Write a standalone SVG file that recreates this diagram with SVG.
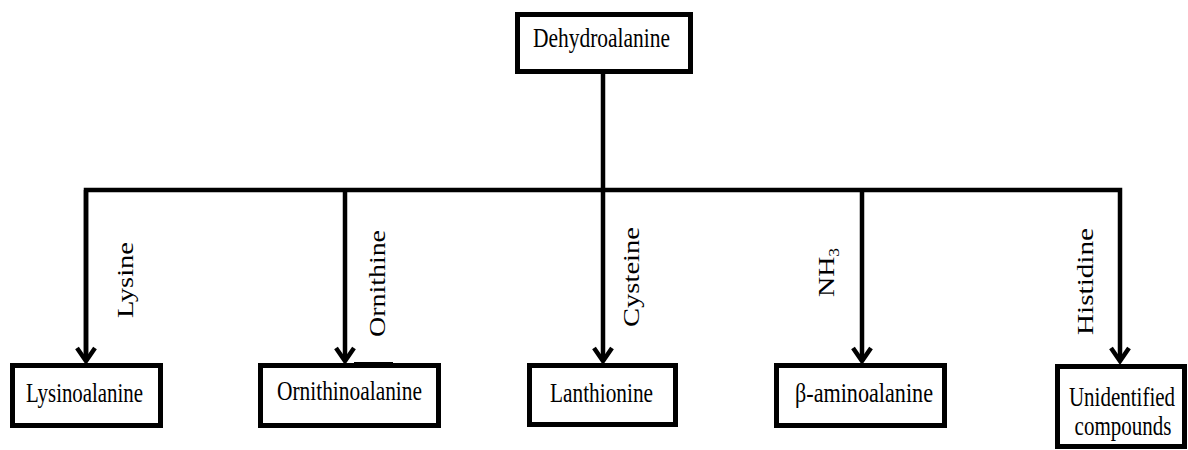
<svg xmlns="http://www.w3.org/2000/svg" width="1188" height="450" viewBox="0 0 1188 450">
<style>
.box{fill:#fff;stroke:#000;stroke-width:5}
.lbl{font-family:"Liberation Serif","Times New Roman",serif;font-size:27px;fill:#000}
.lbl2{font-family:"Liberation Serif","Times New Roman",serif;font-size:21px;fill:#000}
.rot{font-family:"Liberation Serif","Times New Roman",serif;font-size:24px;fill:#000}
.ln{fill:none;stroke:#000;stroke-width:4.5;stroke-linejoin:miter}
</style>
<defs>
<marker id="arr" markerUnits="userSpaceOnUse" viewBox="-18 -12 22 24" refX="0" refY="0" markerWidth="22" markerHeight="24" orient="auto" overflow="visible">
<path d="M-13,-9 L0,0 L-13,9" fill="none" stroke="#000" stroke-width="4.5" stroke-linejoin="miter"/>
</marker>
</defs>
<g id="connectors">
<path class="ln" d="M603,74 V190"/>
<path class="ln" d="M86,361 V190 H1120 V361" marker-end="url(#arr)"/>
<path class="ln" d="M86,190 V361" marker-end="url(#arr)"/>
<path class="ln" d="M345,190 V361" marker-end="url(#arr)"/>
<path class="ln" d="M603,190 V361" marker-end="url(#arr)"/>
<path class="ln" d="M862,190 V361" marker-end="url(#arr)"/>
<text class="rot" transform="translate(133,318) rotate(-90)" textLength="76" lengthAdjust="spacingAndGlyphs">Lysine</text>
<text class="rot" transform="translate(385,337) rotate(-90)" textLength="107" lengthAdjust="spacingAndGlyphs">Ornithine</text>
<text class="rot" transform="translate(639,327) rotate(-90)" textLength="100" lengthAdjust="spacingAndGlyphs">Cysteine</text>
<text class="rot" transform="translate(834,297) rotate(-90)" textLength="49" lengthAdjust="spacingAndGlyphs">NH<tspan dy="5" font-size="15">3</tspan></text>
<text class="rot" transform="translate(1093,335) rotate(-90)" textLength="107" lengthAdjust="spacingAndGlyphs">Histidine</text>
</g>
<g id="dehydroalanine">
<rect class="box" x="517.5" y="14.5" width="173" height="57"/>
<text class="lbl" x="533" y="47" textLength="137" lengthAdjust="spacingAndGlyphs">Dehydroalanine</text>
</g>
<g id="lysinoalanine">
<rect class="box" x="12.5" y="365.5" width="148" height="60"/>
<text class="lbl" x="26" y="402" textLength="117" lengthAdjust="spacingAndGlyphs">Lysinoalanine</text>
</g>
<g id="ornithinoalanine">
<rect class="box" x="260.5" y="365.5" width="178" height="60"/>
<rect x="354" y="362" width="39" height="2" fill="#000"/>
<text class="lbl" x="277" y="400" textLength="145" lengthAdjust="spacingAndGlyphs">Ornithinoalanine</text>
</g>
<g id="lanthionine">
<rect class="box" x="529.5" y="365.5" width="146" height="59"/>
<text class="lbl" x="550" y="402" textLength="103" lengthAdjust="spacingAndGlyphs">Lanthionine</text>
</g>
<g id="beta-aminoalanine">
<rect class="box" x="776.5" y="365.5" width="168" height="60"/>
<text class="lbl" x="795" y="402" textLength="138" lengthAdjust="spacingAndGlyphs">β-aminoalanine</text>
</g>
<g id="unidentified">
<rect class="box" x="1057.5" y="366.5" width="127" height="80"/>
<text class="lbl2" text-anchor="middle" transform="translate(1122,406) scale(1,1.3)">Unidentified</text>
<text class="lbl2" text-anchor="middle" transform="translate(1123,435) scale(1,1.3)">compounds</text>
</g>
</svg>
